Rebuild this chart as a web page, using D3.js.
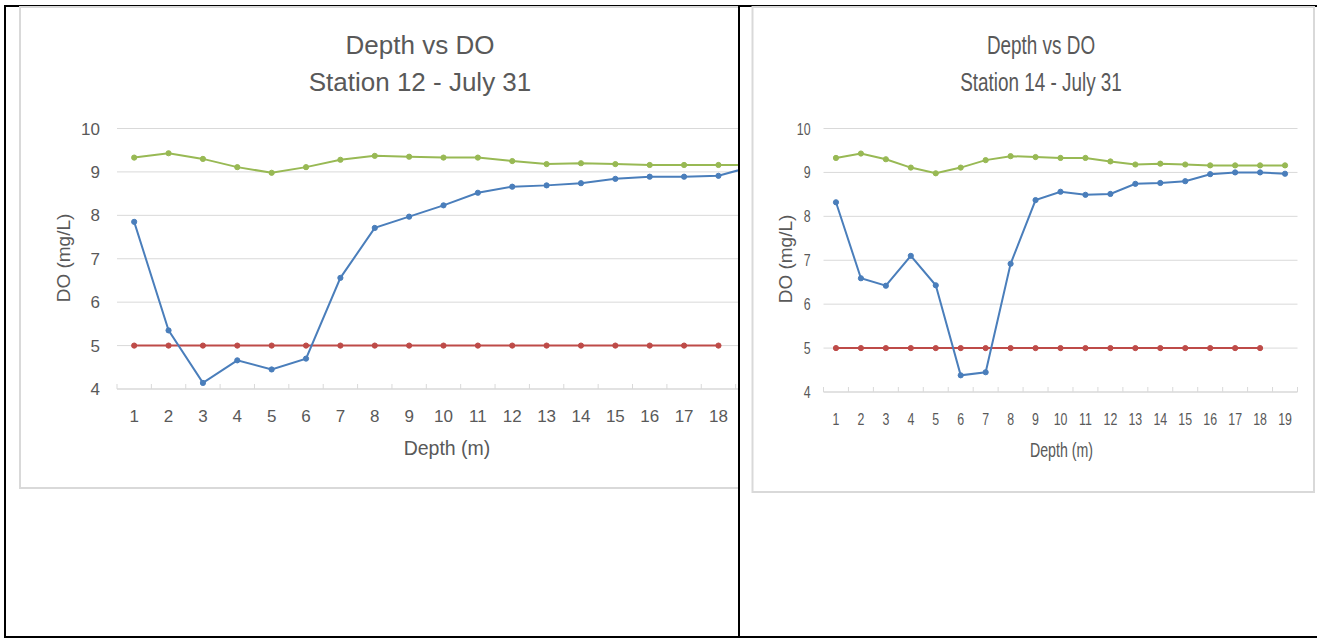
<!DOCTYPE html>
<html>
<head>
<meta charset="utf-8">
<script src="https://cdn.jsdelivr.net/npm/d3@7"></script>
<style>
  body { margin: 0; background: #fff; }
  svg { display: block; font-family: "Liberation Sans", Arial, sans-serif; }
</style>
</head>
<body>
<svg id="chart" width="1317" height="639"></svg>
<script>
// depth categories (m)
const depths = d3.range(1, 20);
const yTicks = [4, 5, 6, 7, 8, 9, 10];

// station 12
const st12DO = [7.85, 5.35, 4.14, 4.66, 4.45, 4.70, 6.56, 7.71, 7.97, 8.23, 8.52, 8.66, 8.69, 8.74, 8.84, 8.89, 8.89, 8.91, 9.13];
// station 14
const st14DO = [8.32, 6.59, 6.42, 7.10, 6.43, 4.38, 4.45, 6.92, 8.37, 8.56, 8.49, 8.51, 8.74, 8.76, 8.80, 8.96, 9.00, 9.00, 8.97];
// saturation-ish line, same on both charts
const satDO = [9.33, 9.43, 9.30, 9.11, 8.98, 9.11, 9.28, 9.37, 9.35, 9.33, 9.33, 9.25, 9.18, 9.20, 9.18, 9.16, 9.16, 9.16, 9.16];
// 5 mg/L limit, depths 1-18
const limitDO = [5, 5, 5, 5, 5, 5, 5, 5, 5, 5, 5, 5, 5, 5, 5, 5, 5, 5];

const svg = d3.select('#chart');
const textColor = '#595959';
const gridColor = '#d9d9d9';

// table lines
svg.append('line').attr('x1', 4).attr('x2', 1317).attr('y1', 6).attr('y2', 6)
  .attr('stroke', '#000').attr('stroke-width', 2);
svg.append('line').attr('x1', 4).attr('x2', 1317).attr('y1', 637).attr('y2', 637)
  .attr('stroke', '#000').attr('stroke-width', 2);
svg.append('line').attr('x1', 5).attr('x2', 5).attr('y1', 5).attr('y2', 638)
  .attr('stroke', '#000').attr('stroke-width', 2);

function drawChart(cfg) {
  const g = svg.append('g');
  if (cfg.clipRight) {
    svg.append('clipPath').attr('id', cfg.id + '-clip')
      .append('rect').attr('x', 0).attr('y', 0).attr('width', cfg.clipRight).attr('height', 639);
    g.attr('clip-path', `url(#${cfg.id}-clip)`);
  }

  // chart area
  g.append('rect')
    .attr('x', cfg.box[0]).attr('y', cfg.box[1])
    .attr('width', cfg.box[2]).attr('height', cfg.box[3])
    .attr('fill', '#fff').attr('stroke', gridColor).attr('stroke-width', 2);

  const x = d3.scaleBand().domain(depths).range(cfg.plot).padding(0);
  const y = d3.scaleLinear().domain([4, 10]).range(cfg.yRange);
  const cx = d => x(d) + x.bandwidth() / 2;

  // horizontal text, squeezed on the narrow chart
  const hText = (tx, ty, str, size, anchor) => g.append('text')
    .attr('transform', `translate(${tx},${ty}) scale(${cfg.sx},1)`)
    .attr('text-anchor', anchor || 'middle')
    .attr('font-size', size).attr('fill', textColor)
    .text(str);

  // gridlines
  g.selectAll('.grid').data(yTicks.filter(t => t > 4)).enter().append('line')
    .attr('x1', cfg.plot[0]).attr('x2', cfg.plot[1])
    .attr('y1', d => y(d)).attr('y2', d => y(d))
    .attr('stroke', gridColor).attr('stroke-width', 1);

  // category axis with ticks between categories
  g.append('line')
    .attr('x1', cfg.plot[0]).attr('x2', cfg.plot[1])
    .attr('y1', y(4)).attr('y2', y(4))
    .attr('stroke', gridColor).attr('stroke-width', 1.5);
  const bounds = depths.map(d => x(d)).concat([cfg.plot[1]]);
  g.selectAll('.tick').data(bounds).enter().append('line')
    .attr('x1', d => d).attr('x2', d => d)
    .attr('y1', y(4)).attr('y2', y(4) - 5)
    .attr('stroke', gridColor).attr('stroke-width', 1);

  yTicks.forEach(t => hText(cfg.plot[0] - cfg.labGap, y(t) + 6, t, 17, 'end'));
  depths.forEach(d => hText(cx(d), cfg.xLabY, d, 17));

  // titles
  hText(cfg.titleX, 54, 'Depth vs DO', 26);
  hText(cfg.titleX, 91, cfg.title, 26);
  hText(cfg.xTitleX, cfg.xTitleY, 'Depth (m)', 19.5);
  g.append('text')
    .attr('transform', `translate(${cfg.yTitleX},${cfg.yTitleY}) rotate(-90)`)
    .attr('text-anchor', 'middle').attr('dy', '0.35em')
    .attr('font-size', 19).attr('fill', textColor)
    .text('DO (mg/L)');

  const series = [
    { values: satDO, color: '#98b954' },
    { values: limitDO, color: '#be4b48' },
    { values: cfg.values, color: '#4a7ebb' }
  ];
  const line = d3.line().x((v, i) => cx(depths[i])).y(v => y(v));
  series.forEach(s => {
    g.append('path').datum(s.values)
      .attr('d', line).attr('fill', 'none')
      .attr('stroke', s.color).attr('stroke-width', 2);
    g.selectAll(null).data(s.values).enter().append('circle')
      .attr('cx', (v, i) => cx(depths[i])).attr('cy', v => y(v))
      .attr('r', 2.6).attr('fill', s.color)
      .attr('stroke', s.color).attr('stroke-width', 1);
  });
}

drawChart({
  id: 'st12', title: 'Station 12 - July 31', values: st12DO,
  box: [20, 7, 773, 481], plot: [117, 770], yRange: [389, 128.5],
  sx: 1, labGap: 17, titleX: 420, xTitleX: 447, xTitleY: 455, xLabY: 422,
  yTitleX: 63, yTitleY: 258, clipRight: 738
});

drawChart({
  id: 'st14', title: 'Station 14 - July 31', values: st14DO,
  box: [752.5, 7, 561.5, 485], plot: [823.5, 1297.5], yRange: [392, 128.5],
  sx: 0.727, labGap: 13, titleX: 1041, xTitleX: 1061.5, xTitleY: 457, xLabY: 425,
  yTitleX: 785, yTitleY: 259
});

// divider between the two cells
svg.append('line').attr('x1', 739).attr('x2', 739).attr('y1', 5).attr('y2', 638)
  .attr('stroke', '#000').attr('stroke-width', 2);
</script>
</body>
</html>
